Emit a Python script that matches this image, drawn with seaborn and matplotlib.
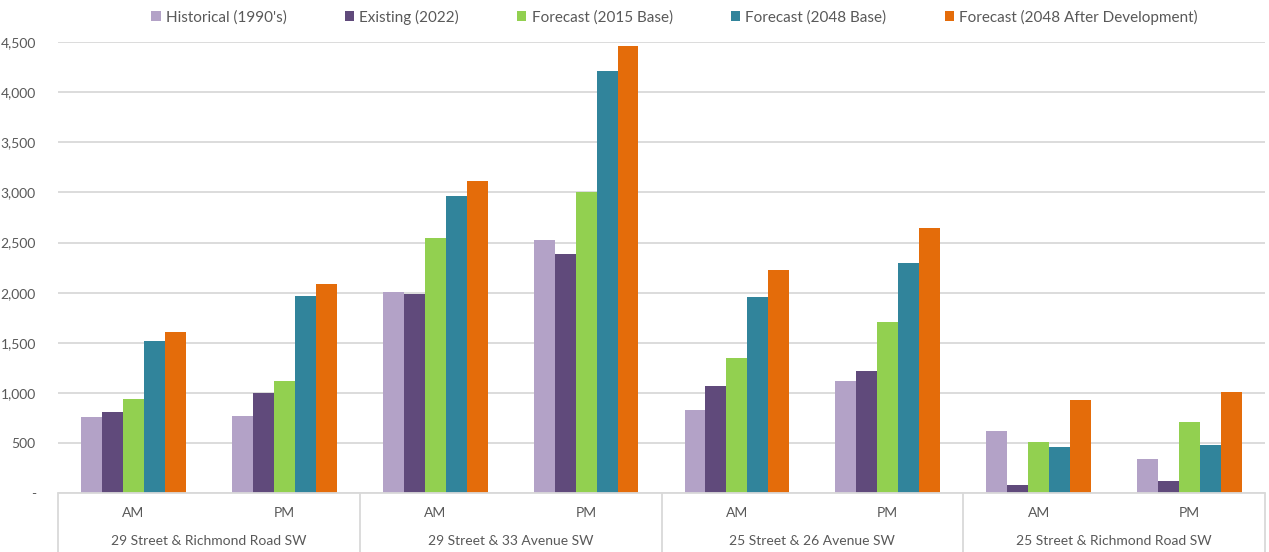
import numpy as np
import pandas as pd
import matplotlib
matplotlib.use("Agg")
import matplotlib.pyplot as plt
import matplotlib.transforms as mtransforms
from matplotlib.patches import Patch
from matplotlib.ticker import FuncFormatter
import seaborn as sns

intersections = ["29 Street & Richmond Road SW", "29 Street & 33 Avenue SW",
                 "25 Street & 26 Avenue SW", "25 Street & Richmond Road SW"]
periods = ["AM", "PM"]
series = ["Historical (1990's)", "Existing (2022)", "Forecast (2015 Base)",
          "Forecast (2048 Base)", "Forecast (2048 After Development)"]
historical = [760, 770, 2010, 2530, 830, 1120, 620, 340]
existing = [810, 1000, 1990, 2390, 1070, 1220, 80, 120]
forecast_2015 = [940, 1120, 2550, 3000, 1350, 1710, 510, 710]
forecast_2048 = [1520, 1970, 2960, 4210, 1960, 2300, 460, 480]
forecast_2048_dev = [1610, 2090, 3110, 4460, 2230, 2650, 930, 1010]
y_ticks = [0, 500, 1000, 1500, 2000, 2500, 3000, 3500, 4000, 4500]
colors = ["#B3A2C7", "#604A7B", "#92D050", "#31849B", "#E46C0A"]

slots = [f"{i}|{p}" for i in intersections for p in periods]
values = [historical, existing, forecast_2015, forecast_2048, forecast_2048_dev]
rows = []
for s, vals in zip(series, values):
    for slot, v in zip(slots, vals):
        rows.append({"slot": slot, "series": s, "value": v})
df = pd.DataFrame(rows)

sns.set_theme(style="white")
plt.rcParams['font.family'] = ['Lato', 'DejaVu Sans']
text_color = "#595959"
grid_color = "#D9D9D9"

fig = plt.figure(figsize=(12.69, 5.52), dpi=100)
ax = fig.add_axes([58 / 1269, 1 - 493.3 / 552, (1265 - 58) / 1269, (493.3 - 42) / 552])

sns.barplot(data=df, x="slot", y="value", hue="series", order=slots, hue_order=series,
            palette=colors, width=0.695, linewidth=0, saturation=1, ax=ax, legend=False,
            errorbar=None, zorder=3)

ax.set_ylim(0, 4500)
ax.set_xlim(-0.5, len(slots) - 0.5)
ax.set_yticks(y_ticks)
ax.yaxis.set_major_formatter(FuncFormatter(lambda v, p: "-" if v == 0 else f"{int(v):,}"))
ax.yaxis.grid(True, color=grid_color, linewidth=1.3, zorder=0)
ax.set_axisbelow(True)
for sp in ax.spines.values():
    sp.set_visible(False)
ax.tick_params(axis="y", length=0, pad=16, labelsize=10, labelcolor=text_color)
ax.set_xticks(range(len(slots)))
ax.set_xticklabels([p for i in intersections for p in periods])
ax.tick_params(axis="x", length=0, pad=10, labelsize=10, labelcolor=text_color)
ax.set_xlabel("")
ax.set_ylabel("")

trans = mtransforms.blended_transform_factory(ax.transData, ax.transAxes)
ax_h = (493.3 - 42)
bottom_axes = -(552 - 493.3) / ax_h
# x-axis baseline
ax.plot([-0.5, len(slots) - 0.5], [0, 0], transform=trans, color=grid_color,
        linewidth=1.3, clip_on=False, zorder=4)
for k in range(len(intersections) + 1):
    xb = -0.5 + 2 * k
    ax.plot([xb, xb], [0, bottom_axes], transform=trans, color=grid_color,
            linewidth=1.3, clip_on=False)
for k, name in enumerate(intersections):
    ax.text(0.5 + 2 * k, -(541 - 493.3) / ax_h, name, transform=trans, ha="center",
            va="center", fontsize=10, color=text_color)

handles = [Patch(facecolor=c, edgecolor="none") for c in colors]
fig.legend(handles, series, loc="center", bbox_to_anchor=(674.5 / 1269, 1 - 17 / 552),
           ncol=5, frameon=False, fontsize=11, handlelength=0.6, handleheight=0.6,
           handletextpad=0.35, columnspacing=3.8, labelcolor=text_color)

fig.savefig("out.png", dpi=100)
